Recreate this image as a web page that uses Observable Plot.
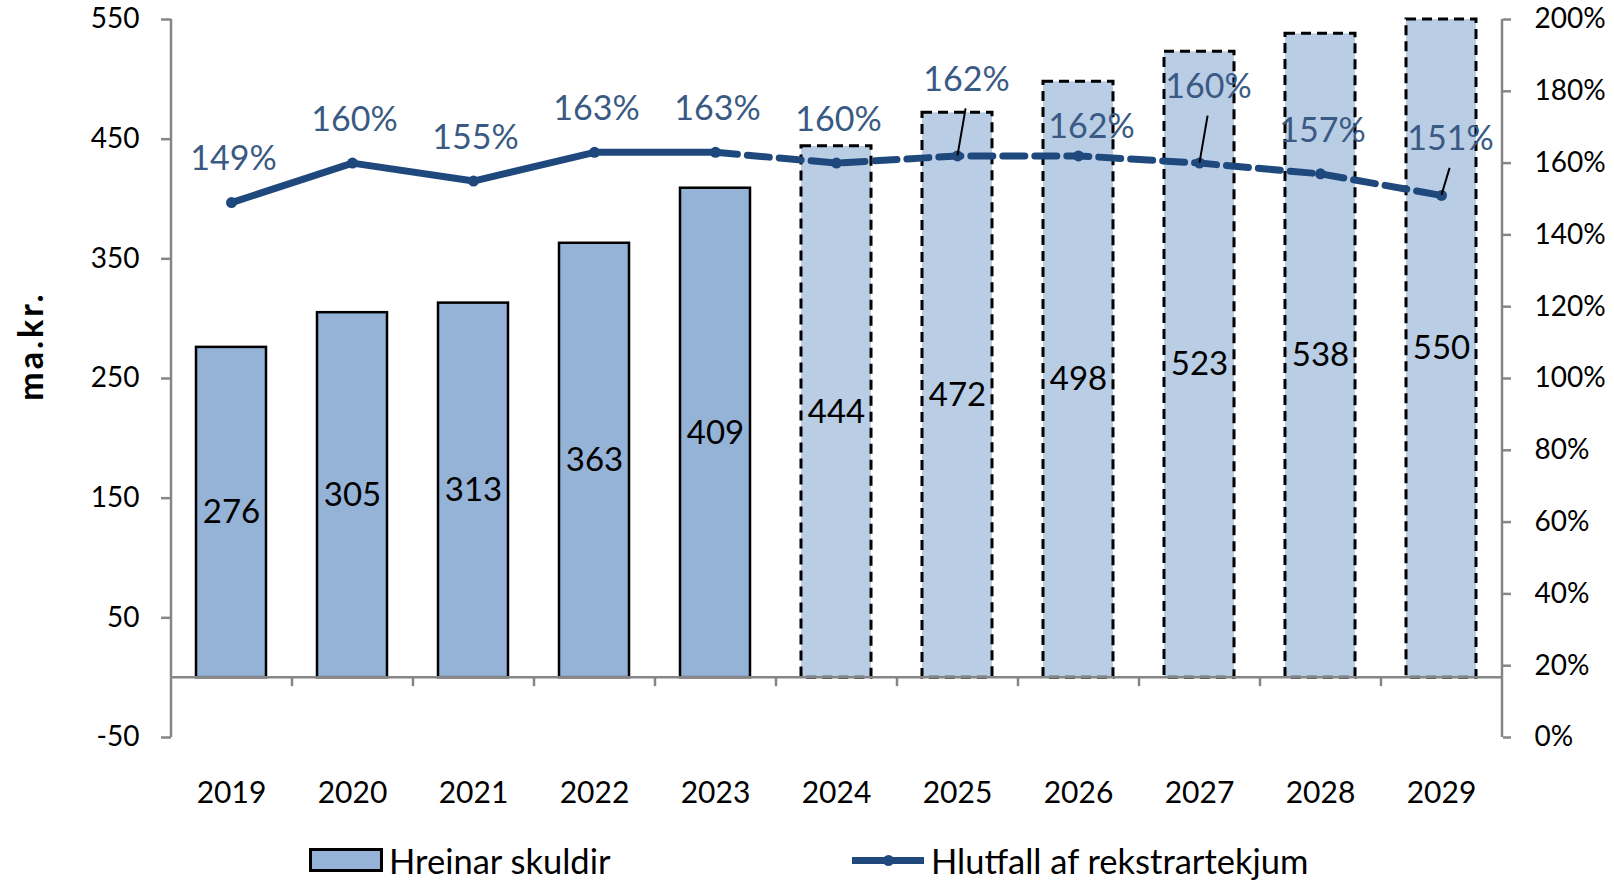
<!DOCTYPE html>
<html>
<head>
<meta charset="utf-8">
<script src="https://cdn.jsdelivr.net/npm/d3@7"></script>
<script src="https://cdn.jsdelivr.net/npm/@observablehq/plot@0.6"></script>
<style>
  body { margin: 0; background: #fff; font-family: Lato, "Open Sans", sans-serif; }
  #wrap { position: relative; width: 1614px; height: 881px; }
  #ytitle { position: absolute; left: 29px; top: 346px; transform: translate(-50%, -50%) rotate(-90deg);
            font: bold 34px Lato, sans-serif; letter-spacing: 3px; color: #000; white-space: nowrap; }
  #legend { position: relative; width: 1614px; height: 61px; font: 34.5px Lato, sans-serif; color: #000; }
  #legend .sw1 { position: absolute; left: 309px; top: 28px; width: 68px; height: 18px; background: #95B3D7; border: 3px solid #000; }
  #legend .t1 { position: absolute; left: 389px; top: 40px; transform: translateY(-50%); white-space: nowrap; }
  #legend .sw2 { position: absolute; left: 852px; top: 37px; width: 72px; height: 7px; background: #1F497D; }
  #legend .sw2dot { position: absolute; left: 883px; top: 35px; width: 11px; height: 11px; border-radius: 50%; background: #1F497D; }
  #legend .t2 { position: absolute; left: 931px; top: 40px; transform: translateY(-50%); white-space: nowrap; }
</style>
</head>
<body>
<div id="wrap">
  <div id="chart"></div>
  <div id="ytitle">ma.kr.</div>
  <div id="legend">
    <div class="sw1"></div><div class="t1">Hreinar skuldir</div>
    <div class="sw2"></div><div class="sw2dot"></div><div class="t2">Hlutfall af rekstrartekjum</div>
  </div>
</div>
<script>
// ---- data ----
const years = [2019, 2020, 2021, 2022, 2023, 2024, 2025, 2026, 2027, 2028, 2029];
const netDebt = [276, 305, 313, 363, 409, 444, 472, 498, 523, 538, 550];      // ma.kr.
const ratioPct = [149, 160, 155, 163, 163, 160, 162, 162, 160, 157, 151];     // % of operating revenue
const firstForecastYear = 2024;
const leftTicks = [-50, 50, 150, 250, 350, 450, 550];
const rightTicks = [0, 20, 40, 60, 80, 100, 120, 140, 160, 180, 200];

// ---- layout (label offsets in px, not data) ----
const calloutYears = [2025, 2027, 2029];
const labelOffset = y => ({2025: [9, -76], 2027: [9, -76], 2029: [9, -56], 2026: [13, -29]})[y] || [2, -43];

const rows = years.map((y, i) => ({year: String(y), yr: y, debt: netDebt[i], ratio: ratioPct[i], forecast: y >= firstForecastYear}));
const hist = rows.filter(d => !d.forecast);
const fc = rows.filter(d => d.forecast);
const solidLine = rows.filter(d => d.yr <= firstForecastYear - 1);
const dashedLine = rows.filter(d => d.yr >= firstForecastYear - 1);

// right axis (0–200%) mapped onto left axis domain (-50–550)
const toLeft = d3.scaleLinear([0, 200], [-50, 550]);

const W = 1614, H = 820;
const lineColor = "#1F497D";
const pctColor = "#3A5A84";
const axisGray = "#868686";

// group percent labels by offset
const groups = d3.groups(rows, d => labelOffset(d.yr).join(","));
const pctLabelMarks = groups.map(([key, g]) => {
  const [dx, dy] = key.split(",").map(Number);
  return Plot.text(g, {x: "year", y: d => toLeft(d.ratio), text: d => d.ratio + "%", dx, dy,
    fontSize: 34, fill: pctColor, fontFamily: "Lato"});
});

const axisLines = (index, scales, values, dims) => {
  const g = d3.create("svg:g").attr("stroke", axisGray).attr("stroke-width", 2.5).attr("fill", "none");
  const l = dims.marginLeft, r = dims.width - dims.marginRight;
  const t = dims.marginTop, b = dims.height - dims.marginBottom;
  const y0 = scales.y(0);
  const step = (r - l) / years.length;
  g.append("line").attr("x1", l).attr("x2", l).attr("y1", t).attr("y2", b);
  g.append("line").attr("x1", r).attr("x2", r).attr("y1", t).attr("y2", b);
  g.append("line").attr("x1", l).attr("x2", r).attr("y1", y0).attr("y2", y0);
  for (let i = 1; i < years.length; i++) {
    const xb = l + i * step;
    g.append("line").attr("x1", xb).attr("x2", xb).attr("y1", y0).attr("y2", y0 + 9);
  }
  return g.node();
};

const leaders = (index, scales, values, dims) => {
  const g = d3.create("svg:g").attr("stroke", "#000").attr("stroke-width", 2);
  const l = dims.marginLeft, r = dims.width - dims.marginRight;
  const step = (r - l) / years.length;
  for (const d of rows.filter(d => calloutYears.includes(d.yr))) {
    const i = years.indexOf(d.yr);
    const px = l + (i + 0.5) * step;
    const py = scales.y(toLeft(d.ratio));
    const [dx, dy] = labelOffset(d.yr);
    g.append("line").attr("x1", px).attr("y1", py).attr("x2", px + dx * 0.9).attr("y2", py + dy + 29);
  }
  return g.node();
};

const chart = Plot.plot({
  width: W,
  height: H,
  marginLeft: 171,
  marginRight: 112,
  marginTop: 19,
  marginBottom: 83,
  style: {fontFamily: "Lato, sans-serif", background: "#fff", overflow: "visible"},
  x: {type: "band", domain: years.map(String), paddingInner: 0.42, paddingOuter: 0.21, axis: null},
  y: {domain: [-50, 550], axis: null},
  marks: [
    Plot.barY(hist, {x: "year", y: "debt", fill: "#95B3D7", stroke: "#000", strokeWidth: 2.5}),
    Plot.barY(fc, {x: "year", y: "debt", fill: "#B9CDE5", stroke: "#000", strokeWidth: 3, strokeDasharray: "10,6"}),
    Plot.text(rows, {x: "year", y: d => d.debt / 2, text: d => String(d.debt), fontSize: 33, fill: "#000", fontFamily: "Lato"}),
    axisLines,
    Plot.axisY(leftTicks, {anchor: "left", tickSize: 10, tickPadding: 22, stroke: axisGray, strokeWidth: 2.5, fill: "#000",
      fontSize: 28, tickFormat: d => String(d), label: null}),
    Plot.axisY(rightTicks, {anchor: "right", y: toLeft, tickSize: 8, tickPadding: 24, stroke: axisGray, strokeWidth: 2.5, fill: "#000",
      fontSize: 28, tickFormat: d => d + "%", label: null}),
    Plot.axisX({anchor: "bottom", tickSize: 0, tickPadding: 44, fontSize: 30, fill: "#000", label: null}),
    Plot.line(solidLine, {x: "year", y: d => toLeft(d.ratio), stroke: lineColor, strokeWidth: 7, strokeLinejoin: "round", strokeLinecap: "round"}),
    Plot.line(dashedLine, {x: "year", y: d => toLeft(d.ratio), stroke: lineColor, strokeWidth: 7, strokeDasharray: "22,10"}),
    Plot.dot(rows, {x: "year", y: d => toLeft(d.ratio), r: 5.5, fill: lineColor}),
    leaders,
    ...pctLabelMarks
  ]
});
document.getElementById("chart").appendChild(chart);
</script>
</body>
</html>
